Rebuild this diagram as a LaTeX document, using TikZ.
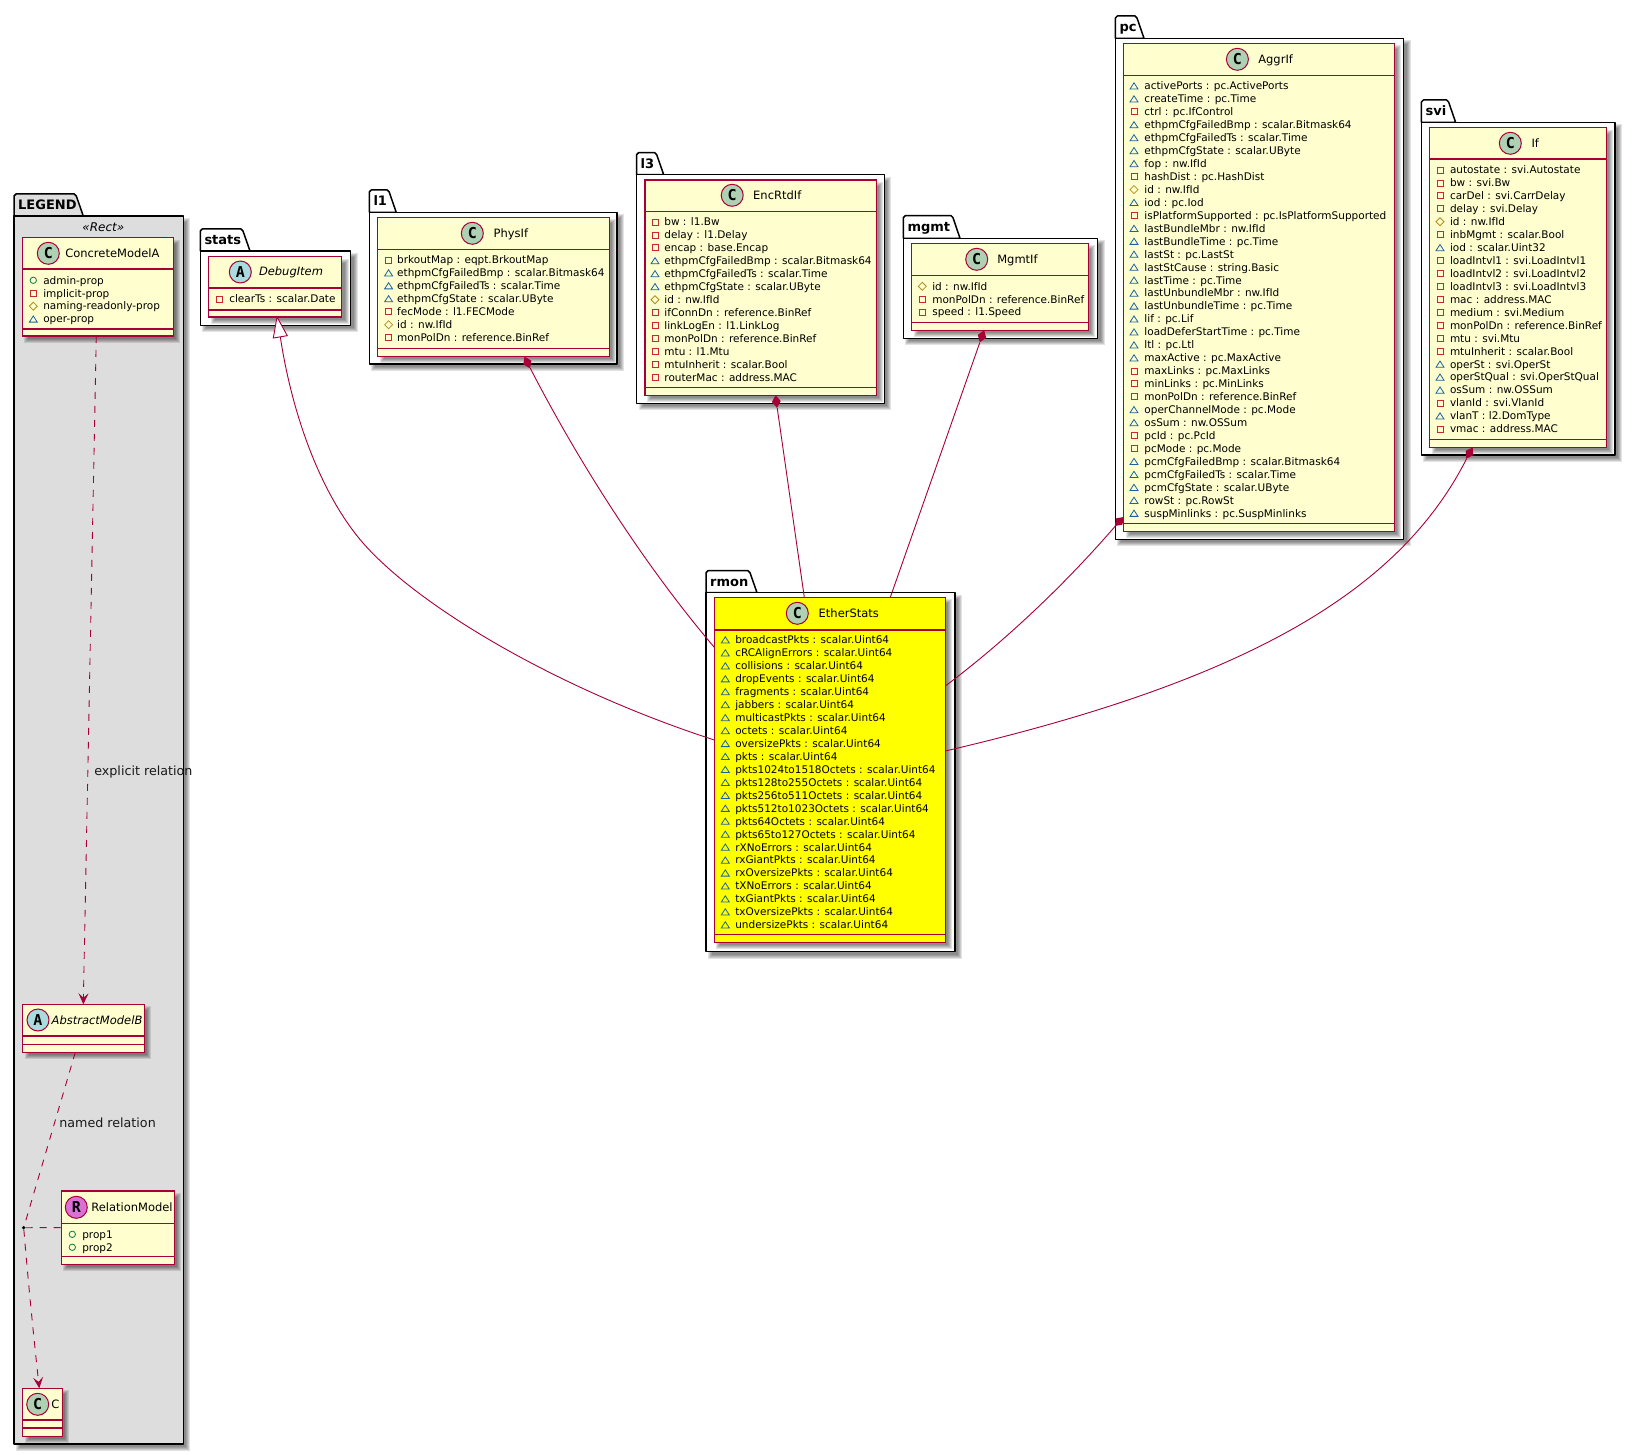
\documentclass[tikz,border=0pt]{standalone}
\usepackage{fontspec}
\setmainfont{DejaVu Sans}
\newfontfamily\umlmono{DejaVu Sans Mono}
\usetikzlibrary{arrows.meta,shapes.geometric}
\definecolor{umlred}{HTML}{A80036}
\definecolor{umlfill}{HTML}{FEFECE}
\definecolor{umlgray}{HTML}{DDDDDD}
\definecolor{umlyellow}{HTML}{FFFF00}
\definecolor{circC}{HTML}{ADD1B2}
\definecolor{circA}{HTML}{A9DCDF}
\definecolor{circR}{HTML}{DA70D6}
\definecolor{symR}{HTML}{C82930}
\definecolor{symD}{HTML}{B38D22}
\definecolor{symT}{HTML}{1963A0}
\definecolor{symO}{HTML}{038048}
\tikzset{
  umlbox/.style={draw=umlred,line width=1.4pt,inner sep=0pt,outer sep=0pt,anchor=north west},
  umlsep/.style={draw=umlred,line width=1.2pt},
  umlcirc/.style={circle,draw=umlred,line width=1pt,minimum size=22pt,inner sep=0pt,font=\fontsize{15}{15}\umlmono\bfseries},
  umltitle/.style={inner sep=0pt,outer sep=0pt,anchor=base west,font=\fontsize{11.5}{13}\selectfont},
  umlattr/.style={inner sep=0pt,outer sep=0pt,anchor=base west,font=\fontsize{10.5}{12}\selectfont},
  umllabel/.style={inner sep=0pt,outer sep=0pt,anchor=base west,text=black!90,font=\fontsize{12.7}{14}\selectfont},
  umlpkgline/.style={draw=black,line width=1.5pt,line join=round},
  umlpkglabel/.style={inner sep=0pt,outer sep=0pt,anchor=base west,font=\fontsize{13}{14}\selectfont\bfseries},
  umlshadowfill/.style={fill=black,opacity=.11,draw=none},
  umlconn/.style={draw=umlred,line width=.9pt},
  umldash/.style={draw=umlred,line width=.9pt,dash pattern=on 7pt off 7pt},
  umlhead/.style={-{Stealth[length=11pt,width=10pt,inset=4.5pt,fill=umlred]}},
  umldiam/.style={diamond,fill=umlred,draw=none,inner sep=0pt,minimum width=9pt,minimum height=13pt},
  umldot/.style={circle,fill=black,draw=none,inner sep=0pt,minimum size=3.6pt},
  symr/.style={draw=symR,line width=.8pt},
  symd/.style={draw=symD,line width=.8pt},
  symt/.style={draw=symT,line width=.8pt},
  symo/.style={draw=symO,line width=.8pt},
}
\newcommand\umlshadow[4]{%
  \foreach \e in {2.5,1.5,0.5,-0.5,-1.5}{%
    \fill[umlshadowfill] ({#1+4.5-\e},{#2+4.5-\e}) rectangle ({#3+4.5+\e},{#4+4.5+\e});
  }%
}
% label, x1, tabtop, tabright(bottom), bodytop, x2, y2, fill
\newcommand\umlpkg[8]{%
  \umlshadow{#2}{#5}{#6}{#7}%
  \filldraw[umlpkgline,fill=#8] (#2,#5) -- (#2,{#3+2}) -- ({#2+2},#3) -- ({#4-9},#3) -- ({#4-7},{#3+2}) -- (#4,#5) -- cycle;
  \filldraw[umlpkgline,fill=#8] (#2,#5) rectangle (#6,#7);
  \node[umlpkglabel] (pkg-#1) at ({#2+4.2},{#3+16}) {#1};
}
% name, x1, y1, x2, y2, sep1, sep2, fill
\newcommand\umlclass[8]{%
  \umlshadow{#2}{#3}{#4}{#5}%
  \pgfmathsetmacro\umlW{#4-#2}\pgfmathsetmacro\umlH{#5-#3}%
  \node[umlbox,fill=#8,minimum width=\umlW pt,minimum height=\umlH pt] (#1) at (#2,#3) {};
  \pgfmathsetmacro\umlSa{#6-#3}\pgfmathsetmacro\umlSb{#7-#3}%
  \draw[umlsep] ([yshift=-\umlSa pt]#1.north west) -- ([yshift=-\umlSa pt]#1.north east);
  \draw[umlsep] ([yshift=-\umlSb pt]#1.north west) -- ([yshift=-\umlSb pt]#1.north east);
}
% name, colour, letter, cx, cy, titlex, title
\newcommand\umlhead[7]{%
  \node[umlcirc,fill=#2] (#1-c) at (#4,#5) {#3};
  \node[umltitle] (#1-t) at (#6,{#5+4}) {#7};
}
\newcommand\umlsymbolr[2]{\draw[symr] ({#1-3},{#2-3}) rectangle ({#1+3},{#2+3});}
\newcommand\umlsymbold[2]{\draw[symd] ({#1-4},#2) -- (#1,{#2-4}) -- ({#1+4},#2) -- (#1,{#2+4}) -- cycle;}
\newcommand\umlsymbolt[2]{\draw[symt] ({#1-4},{#2+3}) -- (#1,{#2-3.2}) -- ({#1+4},{#2+3}) -- cycle;}
\newcommand\umlsymbolo[2]{\draw[symo] (#1,#2) circle (3.2);}
% prefix, sx, tx, y0, list
\newcommand\umlattrs[5]{%
  \foreach \kind/\txt [count=\n from 0] in {#5}{%
    \pgfmathsetmacro\umlY{#4+\n*12.95}%
    \csname umlsymbol\kind\endcsname{#2}{\umlY}%
    \node[umlattr] (#1-a\n) at (#3,{\umlY+3.8}) {\txt};
  }%
}
\begin{document}
\begin{tikzpicture}[x=1pt,y=-1pt]
\useasboundingbox (0,0) rectangle (1636,1455);
\fill[white] (0,0) rectangle (1636,1455);

% ---------- packages
\umlpkg{LEGEND}{14}{194}{83.3}{216}{183.3}{1444}{umlgray}
\umlpkg{stats}{200.3}{229}{250}{251}{350.7}{325.3}{white}
\umlpkg{l1}{369.3}{190}{396.2}{212.3}{617.2}{364}{white}
\umlpkg{l3}{636.5}{152.7}{663.7}{174.7}{884.4}{403.3}{white}
\umlpkg{mgmt}{903.3}{215.7}{960}{238.3}{1097.7}{338.3}{white}
\umlpkg{pc}{1115.4}{16}{1144}{38.3}{1403.6}{539.3}{white}
\umlpkg{svi}{1421.4}{100}{1455.6}{122.3}{1615}{455}{white}
\umlpkg{rmon}{706}{570.7}{757}{592.7}{955}{951.7}{white}

\node[inner sep=0pt,font=\fontsize{12}{13}\selectfont\itshape] (legendstereo) at (103.3,227) {«Rect»};

% ---------- classes
\umlclass{concrete}{22.3}{237.7}{173.3}{336}{269}{329}{umlfill}
\umlhead{concrete}{circC}{C}{48.3}{253.3}{65.3}{ConcreteModelA}
\umlattrs{concrete}{33.3}{43.3}{280.3}{o/admin-prop, r/implicit-prop, d/naming-readonly-prop, t/oper-prop}

\umlclass{abstract}{22.7}{1004.3}{144.3}{1052.3}{1036}{1044.3}{umlfill}
\umlhead{abstract}{circA}{A}{38}{1020}{51.7}{\itshape AbstractModelB}

\umlclass{relation}{61.3}{1191}{174.3}{1264.3}{1223.3}{1256.7}{umlfill}
\umlhead{relation}{circR}{R}{76.3}{1207.3}{91.3}{RelationModel}
\umlattrs{relation}{72.3}{82.3}{1234.3}{o/prop1, o/prop2}

\umlclass{cclass}{22.7}{1388.3}{62.3}{1436.3}{1420}{1428}{umlfill}
\umlhead{cclass}{circC}{C}{37.7}{1404.3}{51.3}{C}

\umlclass{debug}{208.7}{256.7}{341.7}{317}{288}{310}{umlfill}
\umlhead{debug}{circA}{A}{240.3}{272}{259}{\itshape DebugItem}
\umlattrs{debug}{219.3}{229.3}{299}{r/clearTs : scalar.Date}

\umlclass{phys}{377.6}{217.3}{609.3}{356.3}{249.3}{348.3}{umlfill}
\umlhead{phys}{circC}{C}{472.3}{233.3}{493.6}{PhysIf}
\umlattrs{phys}{388.6}{397.2}{260}{r/brkoutMap : eqpt.BrkoutMap, t/ethpmCfgFailedBmp : scalar.Bitmask64, t/ethpmCfgFailedTs : scalar.Time, t/ethpmCfgState : scalar.UByte, r/fecMode : l1.FECMode, d/id : nw.IfId, r/monPolDn : reference.BinRef}

\umlclass{enc}{644.8}{180}{876.2}{395.3}{211.3}{387.3}{umlfill}
\umlhead{enc}{circC}{C}{732.2}{195.3}{753.2}{EncRtdIf}
\umlattrs{enc}{655}{664.4}{222}{r/bw : l1.Bw, r/delay : l1.Delay, r/encap : base.Encap, t/ethpmCfgFailedBmp : scalar.Bitmask64, t/ethpmCfgFailedTs : scalar.Time, t/ethpmCfgState : scalar.UByte, d/id : nw.IfId, r/ifConnDn : reference.BinRef, r/linkLogEn : l1.LinkLog, r/monPolDn : reference.BinRef, r/mtu : l1.Mtu, r/mtuInherit : scalar.Bool, r/routerMac : address.MAC}

\umlclass{mgmtif}{911.7}{243.3}{1088.3}{330.3}{275.3}{322.3}{umlfill}
\umlhead{mgmtif}{circC}{C}{976.7}{259.3}{997.3}{MgmtIf}
\umlattrs{mgmtif}{922.3}{932.3}{286.3}{d/id : nw.IfId, r/monPolDn : reference.BinRef, r/speed : l1.Speed}

\umlclass{aggr}{1123.6}{43.3}{1394.4}{531.3}{75.3}{523.3}{umlfill}
\umlhead{aggr}{circC}{C}{1237.4}{59.3}{1258.3}{AggrIf}
\umlattrs{aggr}{1134}{1144.4}{86}{t/activePorts : pc.ActivePorts, t/createTime : pc.Time, r/ctrl : pc.IfControl, t/ethpmCfgFailedBmp : scalar.Bitmask64, t/ethpmCfgFailedTs : scalar.Time, t/ethpmCfgState : scalar.UByte, t/fop : nw.IfId, r/hashDist : pc.HashDist, d/id : nw.IfId, t/iod : pc.Iod, r/isPlatformSupported : pc.IsPlatformSupported, t/lastBundleMbr : nw.IfId, t/lastBundleTime : pc.Time, t/lastSt : pc.LastSt, t/lastStCause : string.Basic, t/lastTime : pc.Time, t/lastUnbundleMbr : nw.IfId, t/lastUnbundleTime : pc.Time, t/lif : pc.Lif, t/loadDeferStartTime : pc.Time, t/ltl : pc.Ltl, t/maxActive : pc.MaxActive, r/maxLinks : pc.MaxLinks, r/minLinks : pc.MinLinks, r/monPolDn : reference.BinRef, t/operChannelMode : pc.Mode, t/osSum : nw.OSSum, r/pcId : pc.PcId, r/pcMode : pc.Mode, t/pcmCfgFailedBmp : scalar.Bitmask64, t/pcmCfgFailedTs : scalar.Time, t/pcmCfgState : scalar.UByte, t/rowSt : pc.RowSt, t/suspMinlinks : pc.SuspMinlinks}

\umlclass{sviif}{1429.6}{127.7}{1606.3}{447.3}{159}{439.3}{umlfill}
\umlhead{sviif}{circC}{C}{1510.3}{143.3}{1531.5}{If}
\umlattrs{sviif}{1440}{1450}{170}{r/autostate : svi.Autostate, r/bw : svi.Bw, r/carDel : svi.CarrDelay, r/delay : svi.Delay, d/id : nw.IfId, r/inbMgmt : scalar.Bool, t/iod : scalar.Uint32, r/loadIntvl1 : svi.LoadIntvl1, r/loadIntvl2 : svi.LoadIntvl2, r/loadIntvl3 : svi.LoadIntvl3, r/mac : address.MAC, r/medium : svi.Medium, r/monPolDn : reference.BinRef, r/mtu : svi.Mtu, r/mtuInherit : scalar.Bool, t/operSt : svi.OperSt, t/operStQual : svi.OperStQual, t/osSum : nw.OSSum, r/vlanId : svi.VlanId, t/vlanT : l2.DomType, r/vmac : address.MAC}

\umlclass{ether}{714.3}{597.3}{945.3}{942.3}{630}{934.3}{umlyellow}
\umlhead{ether}{circC}{C}{797.3}{613.3}{818.7}{EtherStats}
\umlattrs{ether}{725.3}{735.3}{640}{t/broadcastPkts : scalar.Uint64, t/cRCAlignErrors : scalar.Uint64, t/collisions : scalar.Uint64, t/dropEvents : scalar.Uint64, t/fragments : scalar.Uint64, t/jabbers : scalar.Uint64, t/multicastPkts : scalar.Uint64, t/octets : scalar.Uint64, t/oversizePkts : scalar.Uint64, t/pkts : scalar.Uint64, t/pkts1024to1518Octets : scalar.Uint64, t/pkts128to255Octets : scalar.Uint64, t/pkts256to511Octets : scalar.Uint64, t/pkts512to1023Octets : scalar.Uint64, t/pkts64Octets : scalar.Uint64, t/pkts65to127Octets : scalar.Uint64, t/rXNoErrors : scalar.Uint64, t/rxGiantPkts : scalar.Uint64, t/rxOversizePkts : scalar.Uint64, t/tXNoErrors : scalar.Uint64, t/txGiantPkts : scalar.Uint64, t/txOversizePkts : scalar.Uint64, t/undersizePkts : scalar.Uint64}

% ---------- legend relations
\node[umldot] (jn) at (23.7,1227.7) {};
\draw[umldash,umlhead] ([xshift=74pt]concrete.south west) -- ([xshift=60.6pt]abstract.north west);
\node[umllabel] (lblexplicit) at (94.3,775) {explicit relation};
\draw[umldash] ([xshift=52.6pt]abstract.south west) -- (jn);
\node[umllabel] (lblnamed) at (59.3,1127) {named relation};
\draw[umldash,umlhead] (jn) .. controls (28,1280) and (34,1340) .. ([xshift=16.6pt]cclass.north west);
\draw[umldash] (jn) -- (relation.west);

% ---------- composition diamonds
\node[umldiam,rotate=25] (dphys) at (527.3,362.5) {};
\node[umldiam,rotate=6] (denc) at (776.3,401.5) {};
\node[umldiam,rotate=-20] (dmgmt) at (982,336.3) {};
\node[umldiam,rotate=-45] (daggr) at (1119.3,521.5) {};
\node[umldiam,rotate=-30] (dsvi) at (1469.5,453) {};

\draw[umlconn] (dphys) .. controls (575,455) and (640,560) .. ([yshift=-50pt]ether.north west);
\draw[umlconn] (denc) -- ([xshift=90pt]ether.north west);
\draw[umlconn] (dmgmt) -- ([xshift=176pt]ether.north west);
\draw[umlconn] (daggr) .. controls (1060,590) and (1000,645) .. ([yshift=-88.7pt]ether.north east);
\draw[umlconn] (dsvi) .. controls (1400,590) and (1250,680) .. ([yshift=-153.7pt]ether.north east);

% ---------- inheritance
\coordinate (inhtip) at ([xshift=68.3pt]debug.south west);
\coordinate (inhbase) at (280.3,336.9);
\coordinate (inhmid) at (363,543);
\draw[umlconn] (inhbase) .. controls (293,420) and (323,497) .. (inhmid) .. controls (420,608) and (560,690) .. ([yshift=-142.7pt]ether.north west);
\filldraw[umlconn,fill=white] (inhtip) -- (273.3,338) -- (287.3,335.7) -- cycle;
\end{tikzpicture}
\end{document}
